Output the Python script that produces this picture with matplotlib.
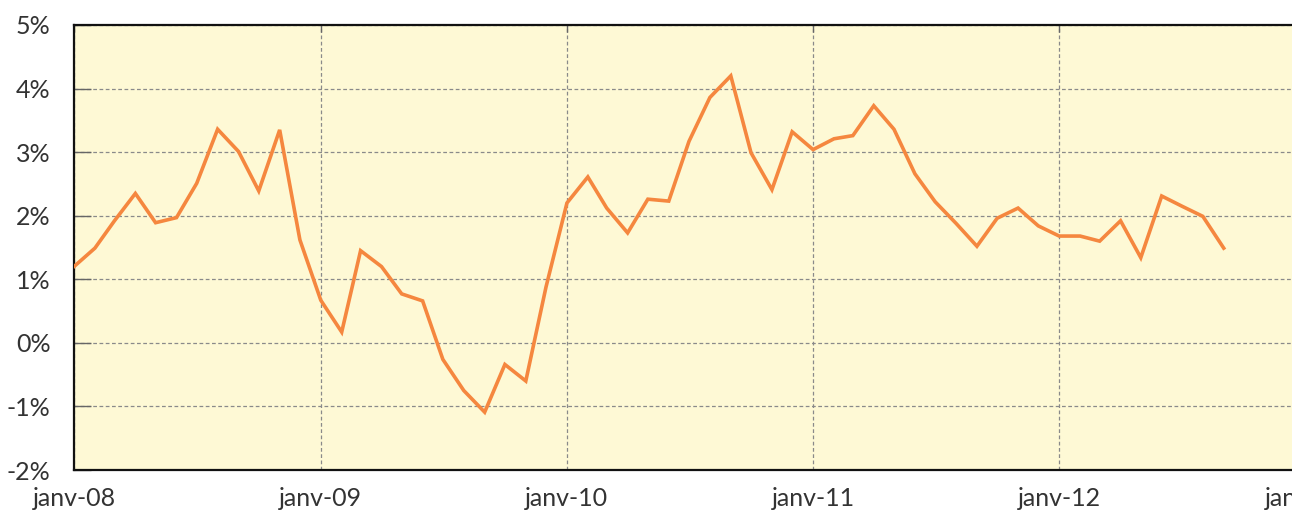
import pandas as pd
import matplotlib.pyplot as plt
from matplotlib.ticker import FuncFormatter

# monthly values, janv-08 .. sept-12 (in %)
values = [1.20, 1.49, 1.92, 2.35, 1.89, 1.97, 2.51, 3.36, 3.01, 2.39, 3.35, 1.62,
          0.67, 0.17, 1.45, 1.20, 0.77, 0.66, -0.26, -0.75, -1.09, -0.34, -0.60, 0.88,
          2.20, 2.61, 2.12, 1.73, 2.26, 2.23, 3.17, 3.86, 4.20, 2.99, 2.41, 3.32,
          3.04, 3.21, 3.26, 3.73, 3.36, 2.66, 2.22, 1.88, 1.52, 1.96, 2.12, 1.84,
          1.68, 1.68, 1.60, 1.92, 1.34, 2.31, 2.15, 1.99, 1.49]
months = pd.date_range("2008-01-01", periods=len(values), freq="MS")
year_ticks = pd.date_range("2008-01-01", "2013-01-01", freq="YS")
year_labels = ["janv-08", "janv-09", "janv-10", "janv-11", "janv-12", "janv-13"]
y_ticks = [-2, -1, 0, 1, 2, 3, 4, 5]

plt.rcParams['font.family'] = ['Lato', 'DejaVu Sans']

fig = plt.figure(figsize=(12.92, 5.14), dpi=100)
# right edge sits past the figure, like the reference (janv-13 cut off)
ax = fig.add_axes([74 / 1292, 44 / 514, 1232 / 1292, 445 / 514])
ax.set_facecolor("#fef9d5")

ax.plot(months, values, color="#f5873f", lw=2.6, solid_joinstyle="miter", zorder=3)

ax.set_xlim(year_ticks[0], year_ticks[-1])
ax.set_ylim(-2, 5)
ax.set_xticks(year_ticks)
ax.set_xticklabels(year_labels)
ax.set_yticks(y_ticks)
ax.yaxis.set_major_formatter(FuncFormatter(lambda v, p: f"{v:.0f}%"))

ax.grid(True, color="#8a8a8a", lw=0.9, linestyle=(0, (3, 2)))
for s in ["left", "top", "bottom", "right"]:
    ax.spines[s].set_linewidth(1.6)
    ax.spines[s].set_color("#111111")

ax.tick_params(axis="y", direction="in", length=12, width=1, color="#666666",
               labelsize=18, labelcolor="#333333", pad=17)
ax.tick_params(axis="x", direction="in", length=5, width=1, color="#666666",
               top=True, bottom=False, labelsize=18, labelcolor="#333333", pad=12)

fig.savefig("out.png", dpi=100)
